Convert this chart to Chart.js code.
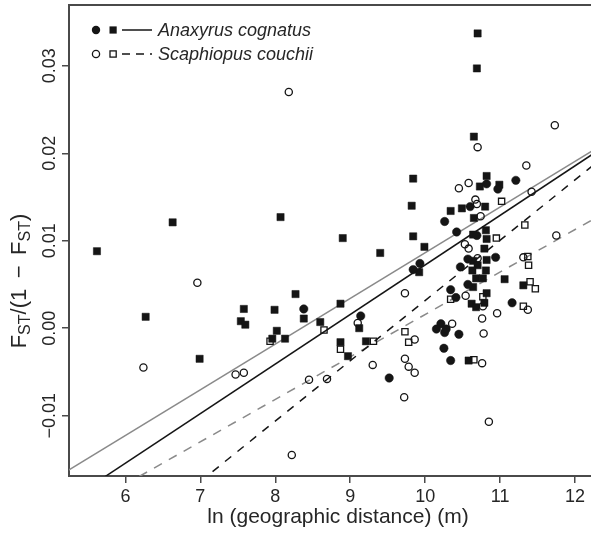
<!DOCTYPE html>
<html><head><meta charset="utf-8">
<script src="https://cdn.jsdelivr.net/npm/chart.js@4"></script>
<style>html,body{margin:0;padding:0;background:#fff;}#wrap{width:591px;height:534px;}</style>
</head><body><div id="wrap"><canvas id="c" width="591" height="534"></canvas></div>
<script>
// ---------- data ----------
const xTicks = [6, 7, 8, 9, 10, 11, 12];
const xTickLabels = ['6', '7', '8', '9', '10', '11', '12'];
const yTicks = [-0.01, 0, 0.01, 0.02, 0.03];
const yTickLabels = ['\u22120.01', '0.00', '0.01', '0.02', '0.03'];
const xTitle = 'ln (geographic distance) (m)';
const yTitleParts = [['F', false], ['ST', true], ['/(1 \u2009\u2212\u2009 F', false], ['ST', true], [')', false]];
const seriesNames = ['Anaxyrus cognatus', 'Scaphiopus couchii'];

// Anaxyrus cognatus, filled circles
const anaxCircX = [8.38, 9.14, 9.52, 10.26, 10.45, 10.25, 10.34, 10.21, 10.15, 10.28, 10.34, 10.41, 11.16, 10.47, 10.57, 9.93, 9.84, 10.26, 10.42, 10.57, 10.94, 10.69, 10.82, 10.97, 11.21, 10.60];
const anaxCircY = [0.0022, 0.0014, -0.0057, -0.0005, -0.0007, -0.0023, -0.0037, 0.0005, -0.0001, -0.0001, 0.0044, 0.0035, 0.0029, 0.0070, 0.0050, 0.0074, 0.0067, 0.0122, 0.0110, 0.0079, 0.0081, 0.0106, 0.0165, 0.0159, 0.0169, 0.0139];
// Anaxyrus cognatus, filled squares
const anaxSqX = [5.62, 6.63, 6.27, 6.99, 8.07, 8.27, 7.58, 7.99, 7.54, 7.60, 8.02, 7.96, 8.13, 8.90, 9.40, 8.38, 8.87, 8.60, 9.12, 9.21, 8.87, 8.97, 10.58, 11.06, 11.31, 9.84, 9.82, 9.84, 9.99, 9.92, 10.34, 10.49, 10.65, 10.80, 10.73, 10.82, 10.99, 10.65, 10.70, 10.69, 10.64, 10.81, 10.82, 10.79, 10.64, 10.70, 10.82, 10.63, 10.81, 10.68, 10.77, 10.64, 10.82, 10.62, 10.68, 10.79];
const anaxSqY = [0.0088, 0.0121, 0.0013, -0.0035, 0.0127, 0.0039, 0.0022, 0.0021, 0.0008, 0.0004, -0.0003, -0.0012, -0.0012, 0.0103, 0.0086, 0.0011, 0.0028, 0.0007, 0.0000, -0.0015, -0.0016, -0.0032, -0.0037, 0.0056, 0.0049, 0.0171, 0.0140, 0.0105, 0.0093, 0.0064, 0.0134, 0.0137, 0.0126, 0.0139, 0.0162, 0.0174, 0.0164, 0.0219, 0.0337, 0.0297, 0.0107, 0.0112, 0.0102, 0.0091, 0.0077, 0.0072, 0.0078, 0.0066, 0.0066, 0.0057, 0.0057, 0.0047, 0.0040, 0.0028, 0.0024, 0.0029];
// Scaphiopus couchii, open circles
const scaCircX = [6.24, 6.96, 8.18, 7.47, 7.58, 8.45, 8.69, 8.22, 9.10, 9.30, 9.86, 9.73, 9.78, 9.86, 9.72, 10.76, 10.78, 10.85, 9.73, 10.54, 10.36, 10.76, 10.96, 11.37, 11.73, 11.35, 11.42, 11.75, 11.31, 10.70, 10.45, 10.58, 10.67, 10.69, 10.74, 10.53, 10.58, 10.70, 10.77];
const scaCircY = [-0.0045, 0.0052, 0.0270, -0.0053, -0.0051, -0.0059, -0.0058, -0.0145, 0.0006, -0.0042, -0.0013, -0.0035, -0.0044, -0.0051, -0.0079, -0.0040, -0.0006, -0.0107, 0.0040, 0.0037, 0.0005, 0.0011, 0.0017, 0.0021, 0.0232, 0.0186, 0.0156, 0.0106, 0.0081, 0.0207, 0.0160, 0.0166, 0.0147, 0.0142, 0.0128, 0.0096, 0.0091, 0.0080, 0.0025];
// Scaphiopus couchii, open squares
const scaSqX = [7.93, 8.65, 9.31, 8.87, 9.73, 9.78, 10.65, 10.34, 11.31, 11.40, 11.47, 11.02, 11.33, 10.95, 11.37, 11.38, 10.77];
const scaSqY = [-0.0015, -0.0002, -0.0015, -0.0024, -0.0004, -0.0016, -0.0036, 0.0033, 0.0025, 0.0053, 0.0045, 0.0145, 0.0118, 0.0103, 0.0082, 0.0072, 0.0036];

// fitted lines (end points)
const lineX = [5, 12.5];
const anaxLineBlackY = [-0.0211, 0.0214];
const anaxLineGrayY = [-0.0175, 0.0217];
const scaLineBlackY = [-0.0313, 0.0204];
const scaLineGrayY = [-0.0227, 0.0137];

const xRange = [5.247, 12.213];
const yRange = [-0.0169, 0.03695];

// ---------- styles ----------
const INK = '#151515';
const GRAY = '#8a8a8a';
const AXIS = '#4a4a4a';
const TXT = '#262626';
const FONT = '"Liberation Sans", Arial, Helvetica, sans-serif';

const zip = (xs, ys) => xs.map((v, i) => ({x: v, y: ys[i]}));

const pointSet = (label, xs, ys, style, filled, r) => ({
  label, data: zip(xs, ys), showLine: false,
  pointStyle: style, pointRadius: r, pointHoverRadius: r,
  pointBackgroundColor: filled ? INK : 'rgba(0,0,0,0)',
  pointBorderColor: INK, pointBorderWidth: filled ? 0.5 : 1.3
});
const lineSet = (label, ys, color, dash) => ({
  label, data: zip(lineX, ys), showLine: true, pointRadius: 0,
  borderColor: color, borderWidth: 1.5, borderDash: dash, fill: false
});

const deco = {
  id: 'deco',
  afterDraw(chart) {
    const {ctx, chartArea: a, scales: {x, y}} = chart;
    ctx.save();
    // top frame line
    ctx.strokeStyle = AXIS; ctx.lineWidth = 2;
    ctx.beginPath(); ctx.moveTo(a.left - 1, a.top); ctx.lineTo(a.right, a.top); ctx.stroke();
    // tick labels
    ctx.fillStyle = TXT;
    ctx.font = '18px ' + FONT;
    ctx.textAlign = 'center'; ctx.textBaseline = 'middle';
    xTicks.forEach((v, i) => ctx.fillText(xTickLabels[i], x.getPixelForValue(v), a.bottom + 21));
    yTicks.forEach((v, i) => {
      ctx.save();
      ctx.translate(a.left - 19, y.getPixelForValue(v));
      ctx.rotate(-Math.PI / 2);
      ctx.fillText(yTickLabels[i], 0, 0);
      ctx.restore();
    });
    // x title
    ctx.font = '21px ' + FONT;
    ctx.textBaseline = 'alphabetic';
    ctx.fillText(xTitle, 338, 523);
    // y title with subscripts
    ctx.save();
    ctx.translate(26, 281);
    ctx.rotate(-Math.PI / 2);
    const big = '22px ' + FONT, small = '16px ' + FONT;
    let w = 0;
    yTitleParts.forEach(([t, s]) => { ctx.font = s ? small : big; w += ctx.measureText(t).width; });
    let cx = -w / 2;
    ctx.textAlign = 'left';
    yTitleParts.forEach(([t, s]) => {
      ctx.font = s ? small : big;
      ctx.fillText(t, cx, s ? 4 : 0);
      cx += ctx.measureText(t).width;
    });
    ctx.restore();
    // legend
    const rows = [30, 54];
    rows.forEach((ry, i) => {
      const filled = i === 0;
      ctx.strokeStyle = INK; ctx.fillStyle = INK; ctx.lineWidth = 1.3;
      ctx.beginPath(); ctx.arc(96, ry, filled ? 4.2 : 3.6, 0, Math.PI * 2);
      filled ? ctx.fill() : ctx.stroke();
      if (filled) ctx.fillRect(109.5, ry - 3.6, 7.2, 7.2); else ctx.strokeRect(110, ry - 3.1, 6.2, 6.2);
      ctx.lineWidth = 1.5;
      ctx.setLineDash(filled ? [] : [8, 6]);
      ctx.beginPath(); ctx.moveTo(122, ry); ctx.lineTo(152, ry); ctx.stroke();
      ctx.setLineDash([]);
      ctx.fillStyle = TXT;
      ctx.font = 'italic 18px ' + FONT;
      ctx.textAlign = 'left'; ctx.textBaseline = 'middle';
      ctx.fillText(seriesNames[i], 158, ry + 1);
    });
    ctx.restore();
  }
};

const noPad = s => { s.paddingLeft = 0; s.paddingRight = 0; s.paddingTop = 0; s.paddingBottom = 0; };

const axisCommon = {
  type: 'linear',
  ticks: {display: false},
  grid: {drawOnChartArea: false, drawTicks: true, tickLength: 7, color: AXIS, lineWidth: 1.5},
  border: {display: true, color: AXIS, width: 2}
};

new Chart(document.getElementById('c'), {
  type: 'scatter',
  data: {
    datasets: [
      pointSet(seriesNames[0] + ' (circles)', anaxCircX, anaxCircY, 'circle', true, 4.2),
      pointSet(seriesNames[0] + ' (squares)', anaxSqX, anaxSqY, 'rect', true, 5.1),
      pointSet(seriesNames[1] + ' (circles)', scaCircX, scaCircY, 'circle', false, 3.6),
      pointSet(seriesNames[1] + ' (squares)', scaSqX, scaSqY, 'rect', false, 4.4),
      lineSet(seriesNames[0] + ' fit', anaxLineBlackY, INK, []),
      lineSet(seriesNames[0] + ' fit 2', anaxLineGrayY, GRAY, []),
      lineSet(seriesNames[1] + ' fit', scaLineBlackY, INK, [8, 8]),
      lineSet(seriesNames[1] + ' fit 2', scaLineGrayY, GRAY, [9, 8])
    ]
  },
  options: {
    responsive: false, animation: false, devicePixelRatio: 1,
    layout: {autoPadding: false, padding: {top: 5, right: 0, left: 0, bottom: 0}},
    plugins: {legend: {display: false}, tooltip: {enabled: false}},
    scales: {
      x: Object.assign({}, axisCommon, {
        min: xRange[0], max: xRange[1],
        afterBuildTicks: s => { s.ticks = xTicks.map(v => ({value: v})); },
        afterFit: s => { s.height = 58; noPad(s); }
      }),
      y: Object.assign({}, axisCommon, {
        min: yRange[0], max: yRange[1],
        afterBuildTicks: s => { s.ticks = yTicks.map(v => ({value: v})); },
        afterFit: s => { s.width = 69; noPad(s); }
      })
    }
  },
  plugins: [deco]
});
</script>
</body></html>
